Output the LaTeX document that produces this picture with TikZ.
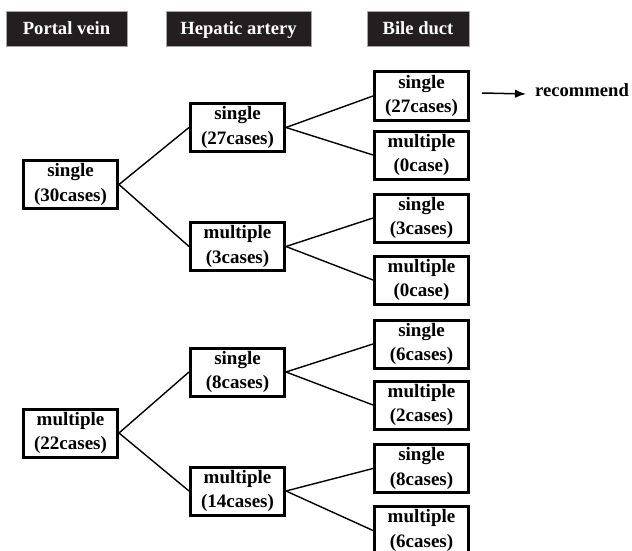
\documentclass[tikz,border=0pt]{standalone}
\usepackage{fontspec}
\setmainfont{Liberation Serif}
\usetikzlibrary{arrows.meta}
\definecolor{hdrfill}{HTML}{231F20}
\begin{document}
\begin{tikzpicture}[x=1pt,y=-1pt,
  box/.style={draw, line width=3pt, minimum width=94pt, minimum height=48pt,
    inner sep=0pt, align=center, font=\fontsize{19}{24.5}\selectfont\bfseries},
  hdr/.style={fill=hdrfill, draw=gray!70, line width=0.6pt, text=white,
    minimum height=35pt, inner sep=0pt, text height=15.5pt, text depth=2.5pt,
    font=\fontsize{18.6}{22}\selectfont\bfseries},
  link/.style={line width=1.4pt},
  recarrow/.style={line width=1.5pt, -{Latex[length=11pt,width=8.5pt]}}]
\useasboundingbox (0,0) rectangle (632,551);
% headers
\node[hdr, minimum width=121pt] (h1) at (66.5,28.5) {Portal vein};
\node[hdr, minimum width=145pt] (h2) at (238.5,28.5) {Hepatic artery};
\node[hdr, minimum width=102pt] (h3) at (418,28.5) {Bile duct};
% level 1
\node[box] (a1) at (70.5,184.5) {single\\(30cases)};
\node[box] (a2) at (70.5,433) {multiple\\(22cases)};
% level 2
\node[box] (b1) at (237.5,127.5) {single\\(27cases)};
\node[box] (b2) at (237.5,246.5) {multiple\\(3cases)};
\node[box] (b3) at (237.5,372) {single\\(8cases)};
\node[box] (b4) at (237.5,491) {multiple\\(14cases)};
% level 3
\node[box] (c1) at (421.5,96) {single\\(27cases)};
\node[box] (c2) at (421.5,155) {multiple\\(0case)};
\node[box] (c3) at (421.5,218) {single\\(3cases)};
\node[box] (c4) at (421.5,280) {multiple\\(0case)};
\node[box] (c5) at (421.5,344) {single\\(6cases)};
\node[box] (c6) at (421.5,405) {multiple\\(2cases)};
\node[box] (c7) at (421.5,468.5) {single\\(8cases)};
\node[box] (c8) at (421.5,530.5) {multiple\\(6cases)};
% connectors
\draw[link] (a1.east) -- (b1.west);
\draw[link] (a1.east) -- (b2.west);
\draw[link] (a2.east) -- (b3.west);
\draw[link] (a2.east) -- (b4.west);
\draw[link] (b1.east) -- (c1.west);
\draw[link] (b1.east) -- (c2.west);
\draw[link] (b2.east) -- (c3.west);
\draw[link] (b2.east) -- (c4.west);
\draw[link] (b3.east) -- (c5.west);
\draw[link] (b3.east) -- (c6.west);
\draw[link] (b4.east) -- (c7.west);
\draw[link] (b4.east) -- (c8.west);
% recommend
\node[anchor=mid west, inner sep=0pt, font=\fontsize{18.6}{22}\selectfont\bfseries] (rec) at (535,94) {recommend};
\coordinate (arrS) at (482,93);
\draw[recarrow] (arrS) -- (rec.mid west -| 526,93);
\end{tikzpicture}
\end{document}
